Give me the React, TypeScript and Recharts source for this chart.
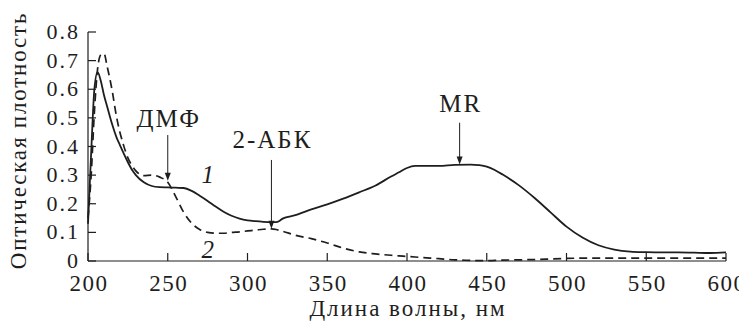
import React from "react"
import { LineChart, Line, XAxis, YAxis, ReferenceLine, ReferenceDot } from "recharts"

// wavelength grid, nm
const wavelength = [
  200, 202, 204, 206, 208, 210, 212, 215, 218, 220, 222, 225, 228, 230, 235, 240, 245, 250, 255, 260,
  265, 270, 275, 280, 285, 290, 295, 300, 305, 310, 315, 318, 320, 322, 330, 340, 350, 360, 370, 380,
  390, 395, 400, 405, 410, 420, 430, 440, 445, 450, 455, 460, 470, 480, 490, 500, 510, 520, 530, 540,
  550, 560, 570, 580, 590, 600,
]

// curve 1 (solid)
const absorbance1 = [
  0.13, 0.38, 0.6, 0.66, 0.63, 0.58, 0.54, 0.48, 0.43, 0.405, 0.38, 0.345, 0.315, 0.3, 0.275, 0.262, 0.258, 0.257, 0.256, 0.255,
  0.245, 0.228, 0.21, 0.19, 0.172, 0.158, 0.148, 0.142, 0.139, 0.137, 0.136, 0.136, 0.14, 0.148, 0.16, 0.18, 0.198, 0.218, 0.24, 0.263,
  0.295, 0.31, 0.325, 0.332, 0.332, 0.332, 0.336, 0.337, 0.335, 0.33, 0.318, 0.302, 0.265, 0.22, 0.17, 0.12, 0.082, 0.055, 0.04, 0.033,
  0.031, 0.03, 0.03, 0.029, 0.028, 0.03,
]

// curve 2 (dashed)
const absorbance2 = [
  0.15, 0.3, 0.52, 0.67, 0.72, 0.725, 0.68, 0.6, 0.5, 0.45, 0.41, 0.36, 0.33, 0.315, 0.298, 0.3, 0.293, 0.275, 0.225, 0.17,
  0.132, 0.11, 0.1, 0.097, 0.097, 0.1, 0.102, 0.105, 0.108, 0.111, 0.112, 0.11, 0.107, 0.104, 0.09, 0.078, 0.063, 0.045, 0.032, 0.025,
  0.02, 0.018, 0.016, 0.014, 0.012, 0.008, 0.004, 0.002, 0.001, 0.001, 0.002, 0.003, 0.004, 0.005, 0.007, 0.009, 0.01, 0.01, 0.01, 0.01,
  0.01, 0.01, 0.01, 0.01, 0.01, 0.01,
]

const xTicks = [200, 250, 300, 350, 400, 450, 500, 550, 600]
const yTicks = [0, 0.1, 0.2, 0.3, 0.4, 0.5, 0.6, 0.7, 0.8]

// peak annotations: arrow from -> to at x, caption above
const arrows = [
  { x: 250, from: 0.44, to: 0.28, text: "ДМФ", textY: 0.468 },
  { x: 315, from: 0.353, to: 0.113, text: "2-АБК", textY: 0.395 },
  { x: 433, from: 0.483, to: 0.337, text: "MR", textY: 0.52 },
]

// curve numbers
const curveLabels = [
  { x: 275, y: 0.272, text: "1" },
  { x: 275, y: 0.01, text: "2" },
]

const data = wavelength.map((w, i) => ({ w, a1: absorbance1[i], a2: absorbance2[i] }))

const INK = "#1e1e1e"
const serif = { fontFamily: "Liberation Serif, serif" }

const YTick = ({ x, y, payload }: any) => (
  <g>
    <line x1={x} x2={x + 8} y1={y} y2={y} stroke={INK} strokeWidth={1.2} />
    <text x={x - 8} y={y + 7} textAnchor="end" style={serif} fontSize={22} letterSpacing={2} fill={INK}>
      {payload.value === 0 ? "0" : payload.value.toFixed(1)}
    </text>
  </g>
)

const XTick = ({ x, y, payload }: any) => (
  <g>
    <line x1={x} x2={x} y1={y} y2={y - 8} stroke={INK} strokeWidth={1.2} />
    <text x={x + 1} y={y + 30} textAnchor="middle" style={serif} fontSize={23} letterSpacing={1.5} fill={INK}>
      {payload.value}
    </text>
  </g>
)

const Arrow = (p: any) => {
  const { x1, y1, x2, y2 } = p
  return (
    <g>
      <line x1={x1} y1={y1} x2={x2} y2={y2 - 4} stroke={INK} strokeWidth={1} />
      <path d={`M${x2 - 3},${y2 - 8} L${x2},${y2} L${x2 + 3},${y2 - 8} Z`} fill={INK} />
    </g>
  )
}

export default function App() {
  return (
    <div style={{ marginTop: -8, marginLeft: -8 }}>
      <LineChart width={747} height={325} data={data} margin={{ top: 32, right: 21, bottom: 0, left: 0 }}>
        <XAxis
          dataKey="w"
          type="number"
          domain={[200, 600]}
          ticks={xTicks}
          height={64}
          tickSize={0}
          tickMargin={0}
          tickLine={false}
          tick={<XTick />}
          axisLine={{ stroke: INK, strokeWidth: 1.2 }}
          label={(props: any) => {
            const vb = props.viewBox
            return (
              <text
                x={vb.x + vb.width / 2 + 1}
                y={vb.y + 55}
                textAnchor="middle"
                style={serif}
                fontSize={23}
                letterSpacing={2}
                fill={INK}
              >
                Длина волны, нм
              </text>
            )
          }}
        />
        <YAxis
          type="number"
          domain={[0, 0.8]}
          ticks={yTicks}
          width={88}
          tickSize={0}
          tickMargin={0}
          tickLine={false}
          tick={<YTick />}
          axisLine={{ stroke: INK, strokeWidth: 1.2 }}
          label={(props: any) => {
            const vb = props.viewBox
            const cx = vb.x + 18
            const cy = vb.y + vb.height / 2 - 6
            return (
              <text
                x={cx}
                y={cy}
                transform={`rotate(-90 ${cx} ${cy})`}
                textAnchor="middle"
                dominantBaseline="central"
                style={serif}
                fontSize={23}
                letterSpacing={1.8}
                fill={INK}
              >
                Оптическая плотность
              </text>
            )
          }}
        />
        <Line
          dataKey="a2"
          type="monotone"
          stroke={INK}
          strokeWidth={1.7}
          strokeDasharray="8 5"
          dot={false}
          isAnimationActive={false}
        />
        <Line dataKey="a1" type="monotone" stroke={INK} strokeWidth={1.8} dot={false} isAnimationActive={false} />
        {arrows.map((a) => (
          <ReferenceLine
            key={a.text}
            segment={[
              { x: a.x, y: a.from },
              { x: a.x, y: a.to },
            ]}
            shape={Arrow}
          />
        ))}
        {arrows.map((a) => (
          <ReferenceDot
            key={"t" + a.text}
            x={a.x}
            y={a.textY}
            shape={(p: any) => (
              <text x={p.cx + 1} y={p.cy} textAnchor="middle" style={serif} fontSize={25} letterSpacing={2} fill={INK}>
                {a.text}
              </text>
            )}
          />
        ))}
        {curveLabels.map((c) => (
          <ReferenceDot
            key={"c" + c.text}
            x={c.x}
            y={c.y}
            shape={(p: any) => (
              <text x={p.cx} y={p.cy} textAnchor="middle" style={serif} fontSize={25} fontStyle="italic" fill={INK}>
                {c.text}
              </text>
            )}
          />
        ))}
      </LineChart>
    </div>
  )
}
